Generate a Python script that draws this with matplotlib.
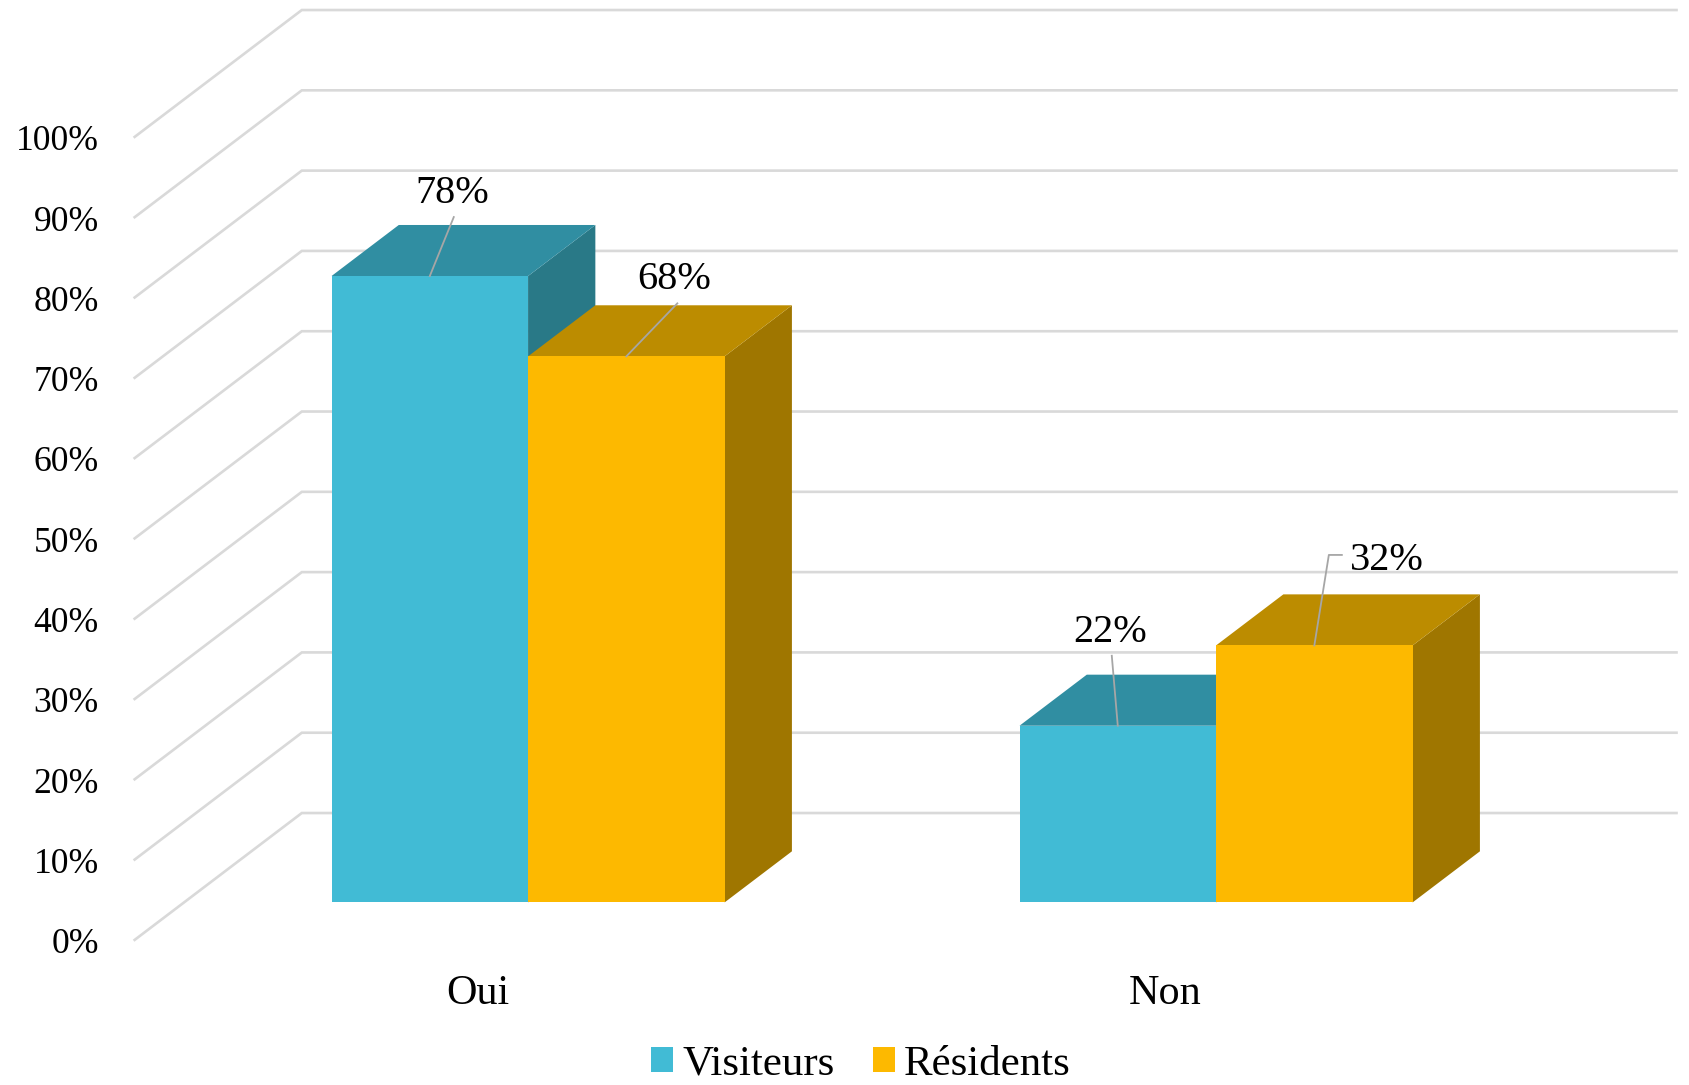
import matplotlib
matplotlib.use("Agg")
import matplotlib.pyplot as plt
from matplotlib.patches import Polygon, Patch

plt.rcParams['font.family'] = ['Liberation Serif', 'DejaVu Serif']

categories = ["Oui", "Non"]
visiteurs = [78, 22]
residents = [68, 32]
y_ticks = [0, 10, 20, 30, 40, 50, 60, 70, 80, 90, 100]
series_names = ["Visiteurs", "Résidents"]

# front, top, side
teal = ("#41BBD5", "#308EA2", "#297987")
amber = ("#FDB900", "#BC8C00", "#9F7600")
grid_color = "#D9D9D9"
leader_color = "#A6A6A6"

# the fake 3d box, in axis units
depth_x = 0.2445
depth_y = 15.9
bar_width = 0.2857
gap = 0.2143
bar_front = 0.3
bar_back = 0.7

# pixels per unit of the axes below
W, H = 1690, 1085
px_x = 688.0
px_y = 8.03

fig = plt.figure(figsize=(W / 100, H / 100), dpi=100)
ax = fig.add_axes([133.6 / W, (H - 940.7) / H, 2 * px_x / W, 100 * px_y / H])
ax.set_xlim(0, 2)
ax.set_ylim(0, 100)
for s in ax.spines.values():
    s.set_visible(False)


def proj(x, y, d):
    return x + d * depth_x, y + d * depth_y


# walls
for t in y_ticks:
    x0, y0 = proj(0, t, 0)
    x1, y1 = proj(0, t, 1)
    x2, y2 = proj(2, t, 1)
    ax.plot([x0, x1, x2], [y0, y1, y2], color=grid_color, lw=1.9, clip_on=False,
            solid_joinstyle="miter", solid_capstyle="butt", zorder=1)


def box(x, v, colors):
    left, right = x, x + bar_width
    front = [proj(left, 0, bar_front), proj(right, 0, bar_front),
             proj(right, v, bar_front), proj(left, v, bar_front)]
    top = [proj(left, v, bar_front), proj(right, v, bar_front),
           proj(right, v, bar_back), proj(left, v, bar_back)]
    side = [proj(right, 0, bar_front), proj(right, 0, bar_back),
            proj(right, v, bar_back), proj(right, v, bar_front)]
    for pts, c in ((side, colors[2]), (top, colors[1]), (front, colors[0])):
        ax.add_patch(Polygon(pts, closed=True, facecolor=c, edgecolor="none",
                             clip_on=False, zorder=2))


for i in range(len(categories)):
    box(i + gap, visiteurs[i], teal)
    box(i + gap + bar_width, residents[i], amber)

# data labels: text offset and leader points, in pixels from the bar's front top centre
labels = [
    (0, 0, visiteurs[0], (22, 83), [(24, 59)]),
    (0, 1, residents[0], (48, 77), [(51, 53)]),
    (1, 0, visiteurs[1], (-8, 93), [(-6, 70)]),
    (1, 1, residents[1], (73, 85), [(14.5, 90.5), (27.5, 90.5)]),
]
for i, k, v, text_off, leader in labels:
    cx, cy = proj(i + gap + bar_width * (k + 0.5), v, bar_front)
    xs = [cx] + [cx + p[0] / px_x for p in leader]
    ys = [cy] + [cy + p[1] / px_y for p in leader]
    ax.plot(xs, ys, color=leader_color, lw=1.3, clip_on=False, zorder=3)
    ax.text(cx + text_off[0] / px_x, cy + text_off[1] / px_y, f"{v}%", fontsize=29,
            ha="center", va="center", color="black", zorder=4)

ax.set_yticks(y_ticks)
ax.set_yticklabels([f"{t}%" for t in y_ticks], fontsize=25.7)
ax.set_xticks([0.5, 1.5])
ax.set_xticklabels(categories, fontsize=30.3)
ax.tick_params(axis="both", length=0)
ax.tick_params(axis="y", pad=25)
ax.tick_params(axis="x", pad=24)
ax.patch.set_visible(False)

handles = [Patch(facecolor=teal[0], label=series_names[0]),
           Patch(facecolor=amber[0], label=series_names[1])]
fig.legend(handles=handles, loc="lower center", bbox_to_anchor=(861 / W, 0.001), ncol=2,
           frameon=False, fontsize=30.9, handlelength=0.5, handleheight=0.5,
           handletextpad=0.22, columnspacing=0.9, borderpad=0, borderaxespad=0)

fig.savefig("out.png", dpi=100)
